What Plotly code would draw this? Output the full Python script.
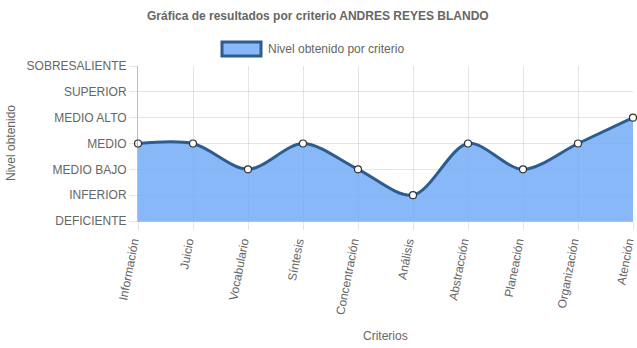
import plotly.graph_objects as go

criterios = ["Información", "Juicio", "Vocabulario", "Síntesis", "Concentración",
             "Análisis", "Abstracción", "Planeación", "Organización", "Atención"]
niveles = ["DEFICIENTE", "INFERIOR", "MEDIO BAJO", "MEDIO", "MEDIO ALTO", "SUPERIOR", "SOBRESALIENTE"]
valores = [3, 3, 2, 3, 2, 1, 3, 2, 3, 4]

FONT = "Liberation Sans, Arial, sans-serif"
xs = list(range(len(criterios)))

L, R, T, B = 138, 4, 66, 127
pw, ph = 637 - L - R, 348 - T - B


def px(x):
    return (x - L) / pw


def py(y):
    return (348 - B - y) / ph


fig = go.Figure()
fig.add_trace(go.Scatter(
    x=xs, y=valores, mode="lines+markers",
    line=dict(color="#2d5c8f", width=3, shape="spline", smoothing=0.9),
    fill="tozeroy", fillcolor="rgba(110,168,245,0.82)",
    marker=dict(size=7, color="white", line=dict(color="#333333", width=1.2)),
    cliponaxis=False, showlegend=False, hoverinfo="skip",
))

fig.update_layout(
    width=637, height=348,
    margin=dict(l=L, r=R, t=T, b=B),
    paper_bgcolor="white", plot_bgcolor="white",
    font=dict(family=FONT, color="#666666", size=12),
    xaxis=dict(
        range=[0, len(criterios) - 1], tickmode="array", tickvals=xs, ticktext=criterios,
        tickangle=-79, showgrid=True, gridcolor="rgba(0,0,0,0.1)", gridwidth=1,
        ticks="outside", ticklen=8, tickcolor="rgba(0,0,0,0.1)",
        showline=True, linecolor="rgba(0,0,0,0.25)", zeroline=False,
        tickfont=dict(size=12, color="#666666"), automargin=False, fixedrange=True,
        ticklabeloverflow="allow", ticklabelshift=-5,
    ),
    yaxis=dict(
        range=[0, 6], tickmode="array", tickvals=list(range(len(niveles))), ticktext=niveles,
        showgrid=True, gridcolor="rgba(0,0,0,0.1)", gridwidth=1,
        ticks="outside", ticklen=8, tickcolor="rgba(0,0,0,0.1)",
        showline=True, linecolor="rgba(0,0,0,0.25)", zeroline=False,
        tickfont=dict(size=12, color="#666666"), automargin=False, fixedrange=True,
    ),
    annotations=[
        dict(text="<b>Gráfica de resultados por criterio ANDRES REYES BLANDO</b>",
             x=px(318), y=py(16), xref="paper", yref="paper", showarrow=False,
             xanchor="center", yanchor="middle",
             font=dict(size=12, color="#666666")),
        dict(text="Criterios", x=px(385), y=py(336), xref="paper", yref="paper",
             showarrow=False, xanchor="center", yanchor="middle",
             font=dict(size=12, color="#666666")),
        dict(text="Nivel obtenido", x=px(11), y=py(143), xref="paper", yref="paper",
             showarrow=False, textangle=-90, xanchor="center", yanchor="middle",
             font=dict(size=12, color="#666666")),
        dict(text="Nivel obtenido por criterio", x=px(266), y=py(49), xref="paper",
             yref="paper", showarrow=False, xanchor="left", yanchor="middle",
             font=dict(size=12, color="#666666")),
    ],
)

fig.add_shape(type="rect", xref="paper", yref="paper",
              x0=px(222), x1=px(261), y0=py(56), y1=py(42),
              fillcolor="rgba(110,168,245,0.82)", line=dict(color="#2d5c8f", width=3))

fig.write_html("out.html")
